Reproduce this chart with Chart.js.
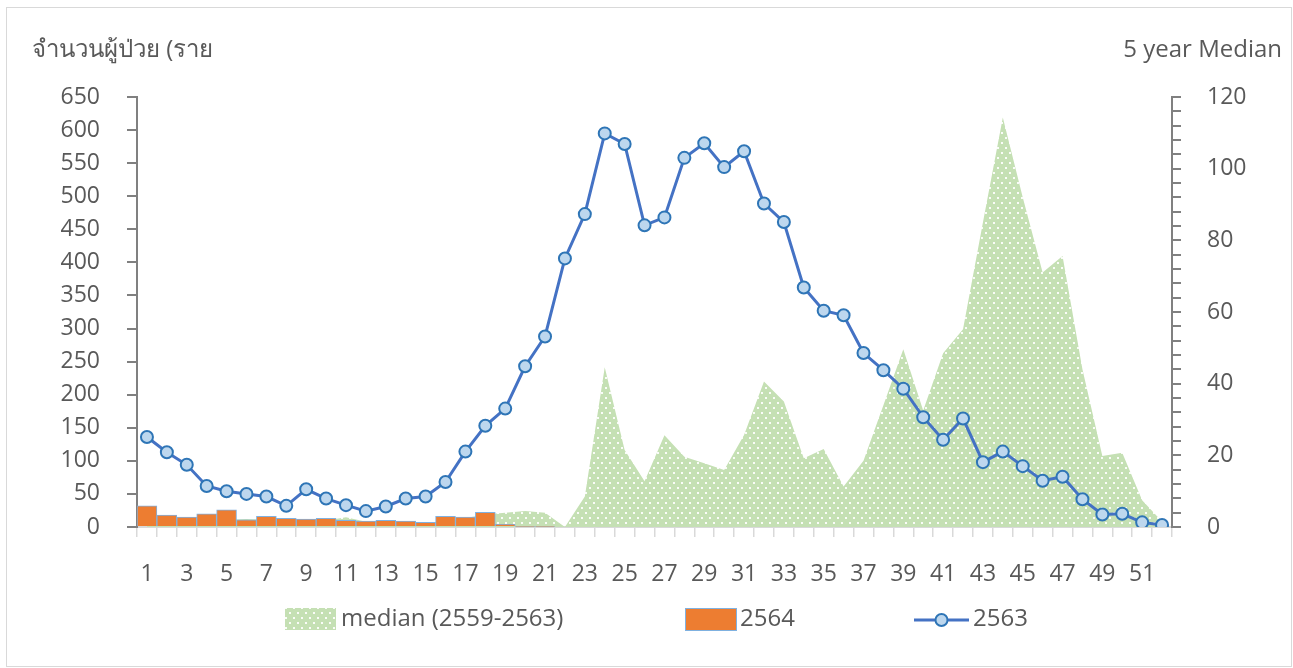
<!DOCTYPE html>
<html>
<head>
<meta charset="utf-8">
<script src="https://cdn.jsdelivr.net/npm/chart.js@4.4.1/dist/chart.umd.min.js"></script>
<style>
  html, body { margin: 0; padding: 0; background: #fff; }
  #wrap { position: relative; width: 1293px; height: 668px; }
  #frame { position: absolute; left: 6px; top: 7px; width: 1286px; height: 660px; border: 1px solid #d9d9d9; box-sizing: border-box; }
  #chart { position: absolute; left: 0; top: 0; }
</style>
</head>
<body>
<div id="wrap">
  <div id="frame"></div>
  <canvas id="chart" width="1293" height="668"></canvas>
</div>
<script>
// week numbers
const weeks = ['1','2','3','4','5','6','7','8','9','10','11','12','13','14','15','16','17','18','19','20',
  '21','22','23','24','25','26','27','28','29','30','31','32','33','34','35','36','37','38','39','40',
  '41','42','43','44','45','46','47','48','49','50','51','52'];

// 5 year median (right axis)
const median = [2, 2, 2, 2, 2, 2.2, 2, 2, 1.5, 1.8, 2.7, 1.5, 1.5, 1.5, 1.2, 1.5, 2.5, 3.5, 4, 4.5,
  4, 0, 8.5, 44.6, 21.5, 12.8, 25.6, 19.6, 17.8, 15.9, 25.7, 40.6, 35, 19.2, 21.8, 11.3, 18.5, 34, 49.6, 32.5,
  48.5, 55.2, 85, 114.3, 92, 71, 75.6, 44, 19.8, 20.7, 7.5, 1.5];

// 2564 cases (left axis), reported up to week 21
const cases2564 = [32, 18, 15, 20, 26, 11, 16, 13, 12, 13, 10, 9, 10, 9, 7, 16, 15, 22, 4, 1,
  1, null, null, null, null, null, null, null, null, null, null, null, null, null, null, null, null, null, null, null,
  null, null, null, null, null, null, null, null, null, null, null, null];

// 2563 cases (left axis)
const cases2563 = [136, 113, 94, 62, 54, 50, 46, 32, 57, 43, 33, 24, 31, 43, 46, 68, 114, 153, 179, 243,
  288, 406, 473, 595, 579, 456, 468, 558, 580, 544, 568, 489, 461, 362, 327, 320, 263, 237, 209, 166,
  132, 164, 98, 114, 92, 70, 76, 42, 19, 20, 7, 3];

const seriesNames = ['median (2559-2563)', '2564', '2563'];
const leftTitle = 'จำนวนผู้ป่วย (ราย';
const rightTitle = '5 year Median';

const textColor = '#595959';
const fontFamily = "'Open Sans', 'Noto Sans', sans-serif";

// dotted green fill like the Excel pattern
function dotPattern() {
  const c = document.createElement('canvas');
  c.width = 8;
  c.height = 10;
  const g = c.getContext('2d');
  g.fillStyle = '#c5e0b4';
  g.fillRect(0, 0, 8, 10);
  g.fillStyle = 'rgba(255,255,255,0.9)';
  g.fillRect(1, 2, 2, 2);
  g.fillRect(5, 7, 2, 2);
  return g.createPattern(c, 'repeat');
}
const greenFill = dotPattern();

const overlay = {
  id: 'overlay',
  afterDraw(chart) {
    const ctx = chart.ctx;
    const ds = chart.data.datasets;
    ctx.save();
    ctx.fillStyle = textColor;
    ctx.font = '24px ' + fontFamily;
    ctx.textBaseline = 'middle';
    ctx.textAlign = 'left';
    ctx.fillText(leftTitle, 32, 50);
    ctx.textAlign = 'right';
    ctx.fillText(rightTitle, 1282, 50);

    // legend
    const ly = 619;
    ctx.textAlign = 'left';
    ctx.fillStyle = ds[0].backgroundColor;
    ctx.fillRect(285, 608, 51, 22);
    ctx.fillStyle = textColor;
    ctx.fillText(ds[0].label, 341, ly);

    ctx.fillStyle = ds[1].backgroundColor;
    ctx.fillRect(685, 608, 51, 22);
    ctx.strokeStyle = ds[1].borderColor;
    ctx.lineWidth = 1;
    ctx.strokeRect(685.5, 608.5, 51, 22);
    ctx.fillStyle = textColor;
    ctx.fillText(ds[1].label, 740, ly);

    ctx.strokeStyle = ds[2].borderColor;
    ctx.lineWidth = 3;
    ctx.beginPath();
    ctx.moveTo(914, ly + 1);
    ctx.lineTo(969, ly + 1);
    ctx.stroke();
    ctx.beginPath();
    ctx.arc(941.5, ly + 1, 6, 0, Math.PI * 2);
    ctx.fillStyle = ds[2].pointBackgroundColor;
    ctx.fill();
    ctx.strokeStyle = ds[2].pointBorderColor;
    ctx.lineWidth = 2;
    ctx.stroke();
    ctx.fillStyle = textColor;
    ctx.fillText(ds[2].label, 973, ly);
    ctx.restore();
  }
};

const ctx = document.getElementById('chart').getContext('2d');
new Chart(ctx, {
  type: 'bar',
  data: {
    labels: weeks,
    datasets: [
      {
        type: 'line',
        label: seriesNames[0],
        data: median,
        yAxisID: 'y1',
        backgroundColor: greenFill,
        borderWidth: 0,
        borderColor: 'rgba(0,0,0,0)',
        pointRadius: 0,
        fill: 'origin',
        tension: 0,
        order: 3
      },
      {
        type: 'bar',
        label: seriesNames[1],
        data: cases2564,
        yAxisID: 'y',
        backgroundColor: '#ed7d31',
        borderColor: '#7fb1e0',
        borderWidth: 1,
        categoryPercentage: 1,
        barPercentage: 1,
        order: 2
      },
      {
        type: 'line',
        label: seriesNames[2],
        data: cases2563,
        yAxisID: 'y',
        borderColor: '#4472c4',
        borderWidth: 3,
        pointRadius: 6,
        pointBorderWidth: 2,
        pointBackgroundColor: '#bdd7ee',
        pointBorderColor: '#2e75b6',
        fill: false,
        tension: 0,
        order: 1
      }
    ]
  },
  options: {
    responsive: false,
    animation: false,
    layout: { padding: { top: 97, bottom: 81, left: 0, right: 0 } },
    plugins: {
      legend: { display: false },
      tooltip: { enabled: false }
    },
    scales: {
      x: {
        offset: true,
        afterFit: (scale) => { scale.height = 60; },
        grid: {
          offset: true,
          drawOnChartArea: false,
          tickLength: 10,
          color: '#d9d9d9',
          lineWidth: 1.5
        },
        border: { color: '#d9d9d9', width: 2 },
        ticks: {
          autoSkip: false,
          maxRotation: 0,
          padding: 24,
          color: textColor,
          font: { family: fontFamily, size: 23 },
          callback: (value, index) => (index % 2 === 0 ? weeks[index] : '')
        }
      },
      y: {
        position: 'left',
        min: 0,
        max: 650,
        afterFit: (scale) => { scale.width = 137; },
        grid: { drawOnChartArea: false, tickLength: 10, color: '#808080', lineWidth: 2 },
        border: { color: '#808080', width: 2 },
        ticks: {
          stepSize: 50,
          autoSkip: false,
          padding: 27,
          color: textColor,
          font: { family: fontFamily, size: 23 }
        }
      },
      y1: {
        position: 'right',
        min: 0,
        max: 120,
        afterFit: (scale) => { scale.width = 121; },
        grid: { drawOnChartArea: false, tickLength: 9, color: '#808080', lineWidth: 2 },
        border: { color: '#808080', width: 2 },
        ticks: {
          stepSize: 4,
          autoSkip: false,
          padding: 26,
          color: textColor,
          font: { family: fontFamily, size: 23 },
          callback: (value) => (value % 20 === 0 ? value : '')
        }
      }
    }
  },
  plugins: [overlay]
});
</script>
</body>
</html>
